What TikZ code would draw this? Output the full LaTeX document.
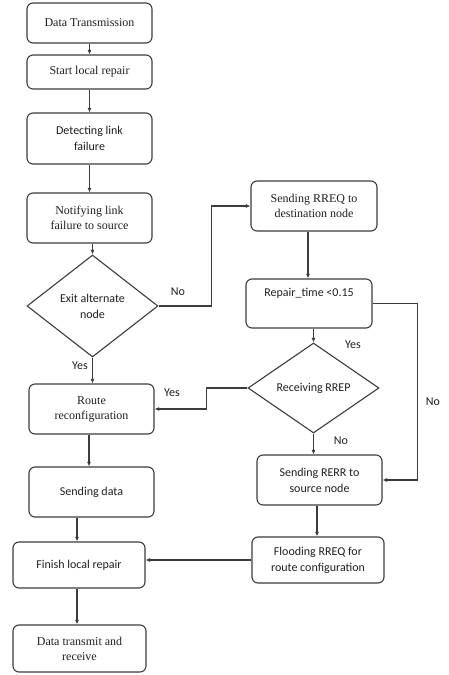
\documentclass[tikz,border=0pt]{standalone}
\usepackage{fontspec}
\setmainfont{Liberation Serif}
\newfontfamily\sansf{Carlito}
\usetikzlibrary{arrows.meta,shapes.geometric}
\definecolor{lc}{HTML}{3C3C3C}
\definecolor{tc}{HTML}{202020}
\begin{document}
\begin{tikzpicture}[x=1pt,y=-1pt,
  box/.style={draw=lc, line width=1.1pt, rounded corners=6pt, align=center, inner sep=0pt, text=tc},
  dia/.style={draw=lc, line width=1.1pt, diamond, align=center, inner sep=0pt, text=tc},
  serif/.style={font=\fontsize{12}{15}\selectfont},
  sans/.style={font=\sansf\fontsize{12}{16}\selectfont},
  lbl/.style={font=\sansf\fontsize{12}{14}\selectfont, text=tc, inner sep=0pt},
  arr/.style={draw=lc, line width=1.1pt, -{Latex[length=4.5pt,width=4pt]}},
  ln/.style={draw=lc, line width=1.1pt}]
\useasboundingbox (0,0) rectangle (449,675);
\fill[white] (0,0) rectangle (449,675);
% left column
\node[box,serif,minimum width=125pt,minimum height=40pt] (dt) at (89.5,23) {Data Transmission};
\node[box,serif,minimum width=125pt,minimum height=34pt] (slr) at (89.5,72) {Start local repair};
\node[box,sans,minimum width=125pt,minimum height=51pt] (dlf) at (89.5,138.5) {Detecting link\\failure};
\node[box,serif,minimum width=125pt,minimum height=50pt] (nlf) at (89.5,218) {Notifying link\\failure to source};
\node[dia,sans,minimum width=131pt,minimum height=102pt] (exit) at (92.5,306) {Exit alternate\\node};
\node[box,serif,minimum width=125pt,minimum height=50pt] (route) at (91.5,409) {Route\\reconfiguration};
\node[box,sans,minimum width=125pt,minimum height=50pt] (sd) at (91.5,492) {Sending data};
\node[box,sans,minimum width=132pt,minimum height=46pt] (fin) at (79,565) {Finish local repair};
\node[box,serif,minimum width=133pt,minimum height=47pt] (dtr) at (79.5,648.5) {Data transmit and\\receive};
% right column
\node[box,serif,minimum width=126pt,minimum height=50pt] (rreq) at (314,206) {Sending RREQ to\\destination node};
\node[box,sans,minimum width=126pt,minimum height=49pt] (rt) at (309,303.5) {Repair\_time {<}0.15\\[2pt]\strut};
\node[dia,sans,minimum width=131pt,minimum height=90pt] (rrep) at (313.5,388) {Receiving RREP};
\node[box,sans,minimum width=125pt,minimum height=50pt] (rerr) at (319.5,480) {Sending RERR to\\source node};
\node[box,sans,minimum width=132pt,minimum height=46pt] (flood) at (318,560) {Flooding RREQ for\\route configuration};
% connectors
\draw[arr] (dt.south) -- (slr.north);
\draw[arr] (slr.south) -- (dlf.north);
\draw[arr] (dlf.south) -- (nlf.north);
\draw[arr] (nlf.south -| exit.north) -- (exit.north);
\draw[arr] (exit.south) -- (route.north -| exit.south);
\draw[arr] (route.south -| 89,0) -- (sd.north -| 89,0);
\draw[arr] (sd.south -| 77,0) -- (fin.north -| 77,0);
\draw[arr] (fin.south -| 77,0) -- (dtr.north -| 77,0);
\draw[arr] (exit.east) -- ++(53,0) |- (rreq.west);
\draw[arr] (rreq.south -| 308,0) -- (rt.north -| 308,0);
\draw[arr] (rt.south -| rrep.north) -- (rrep.north);
\draw[arr] (rrep.west) -- ++(-41,0) |- (route.east);
\draw[arr] (rrep.south) -- (rerr.north -| rrep.south);
\draw[arr] (rt.east) -- ++(45,0) |- (rerr.east);
\draw[arr] (rerr.south -| 317,0) -- (flood.north -| 317,0);
\draw[arr] (flood.west) -- (flood.west -| fin.east);
% labels
\node[lbl] (no1) at (178,292) {No};
\node[lbl] (yes1) at (80,366) {Yes};
\node[lbl] (yes2) at (172,393) {Yes};
\node[lbl] (yes3) at (353,345) {Yes};
\node[lbl] (no2) at (341,441) {No};
\node[lbl] (no3) at (433,402) {No};
\end{tikzpicture}
\end{document}
